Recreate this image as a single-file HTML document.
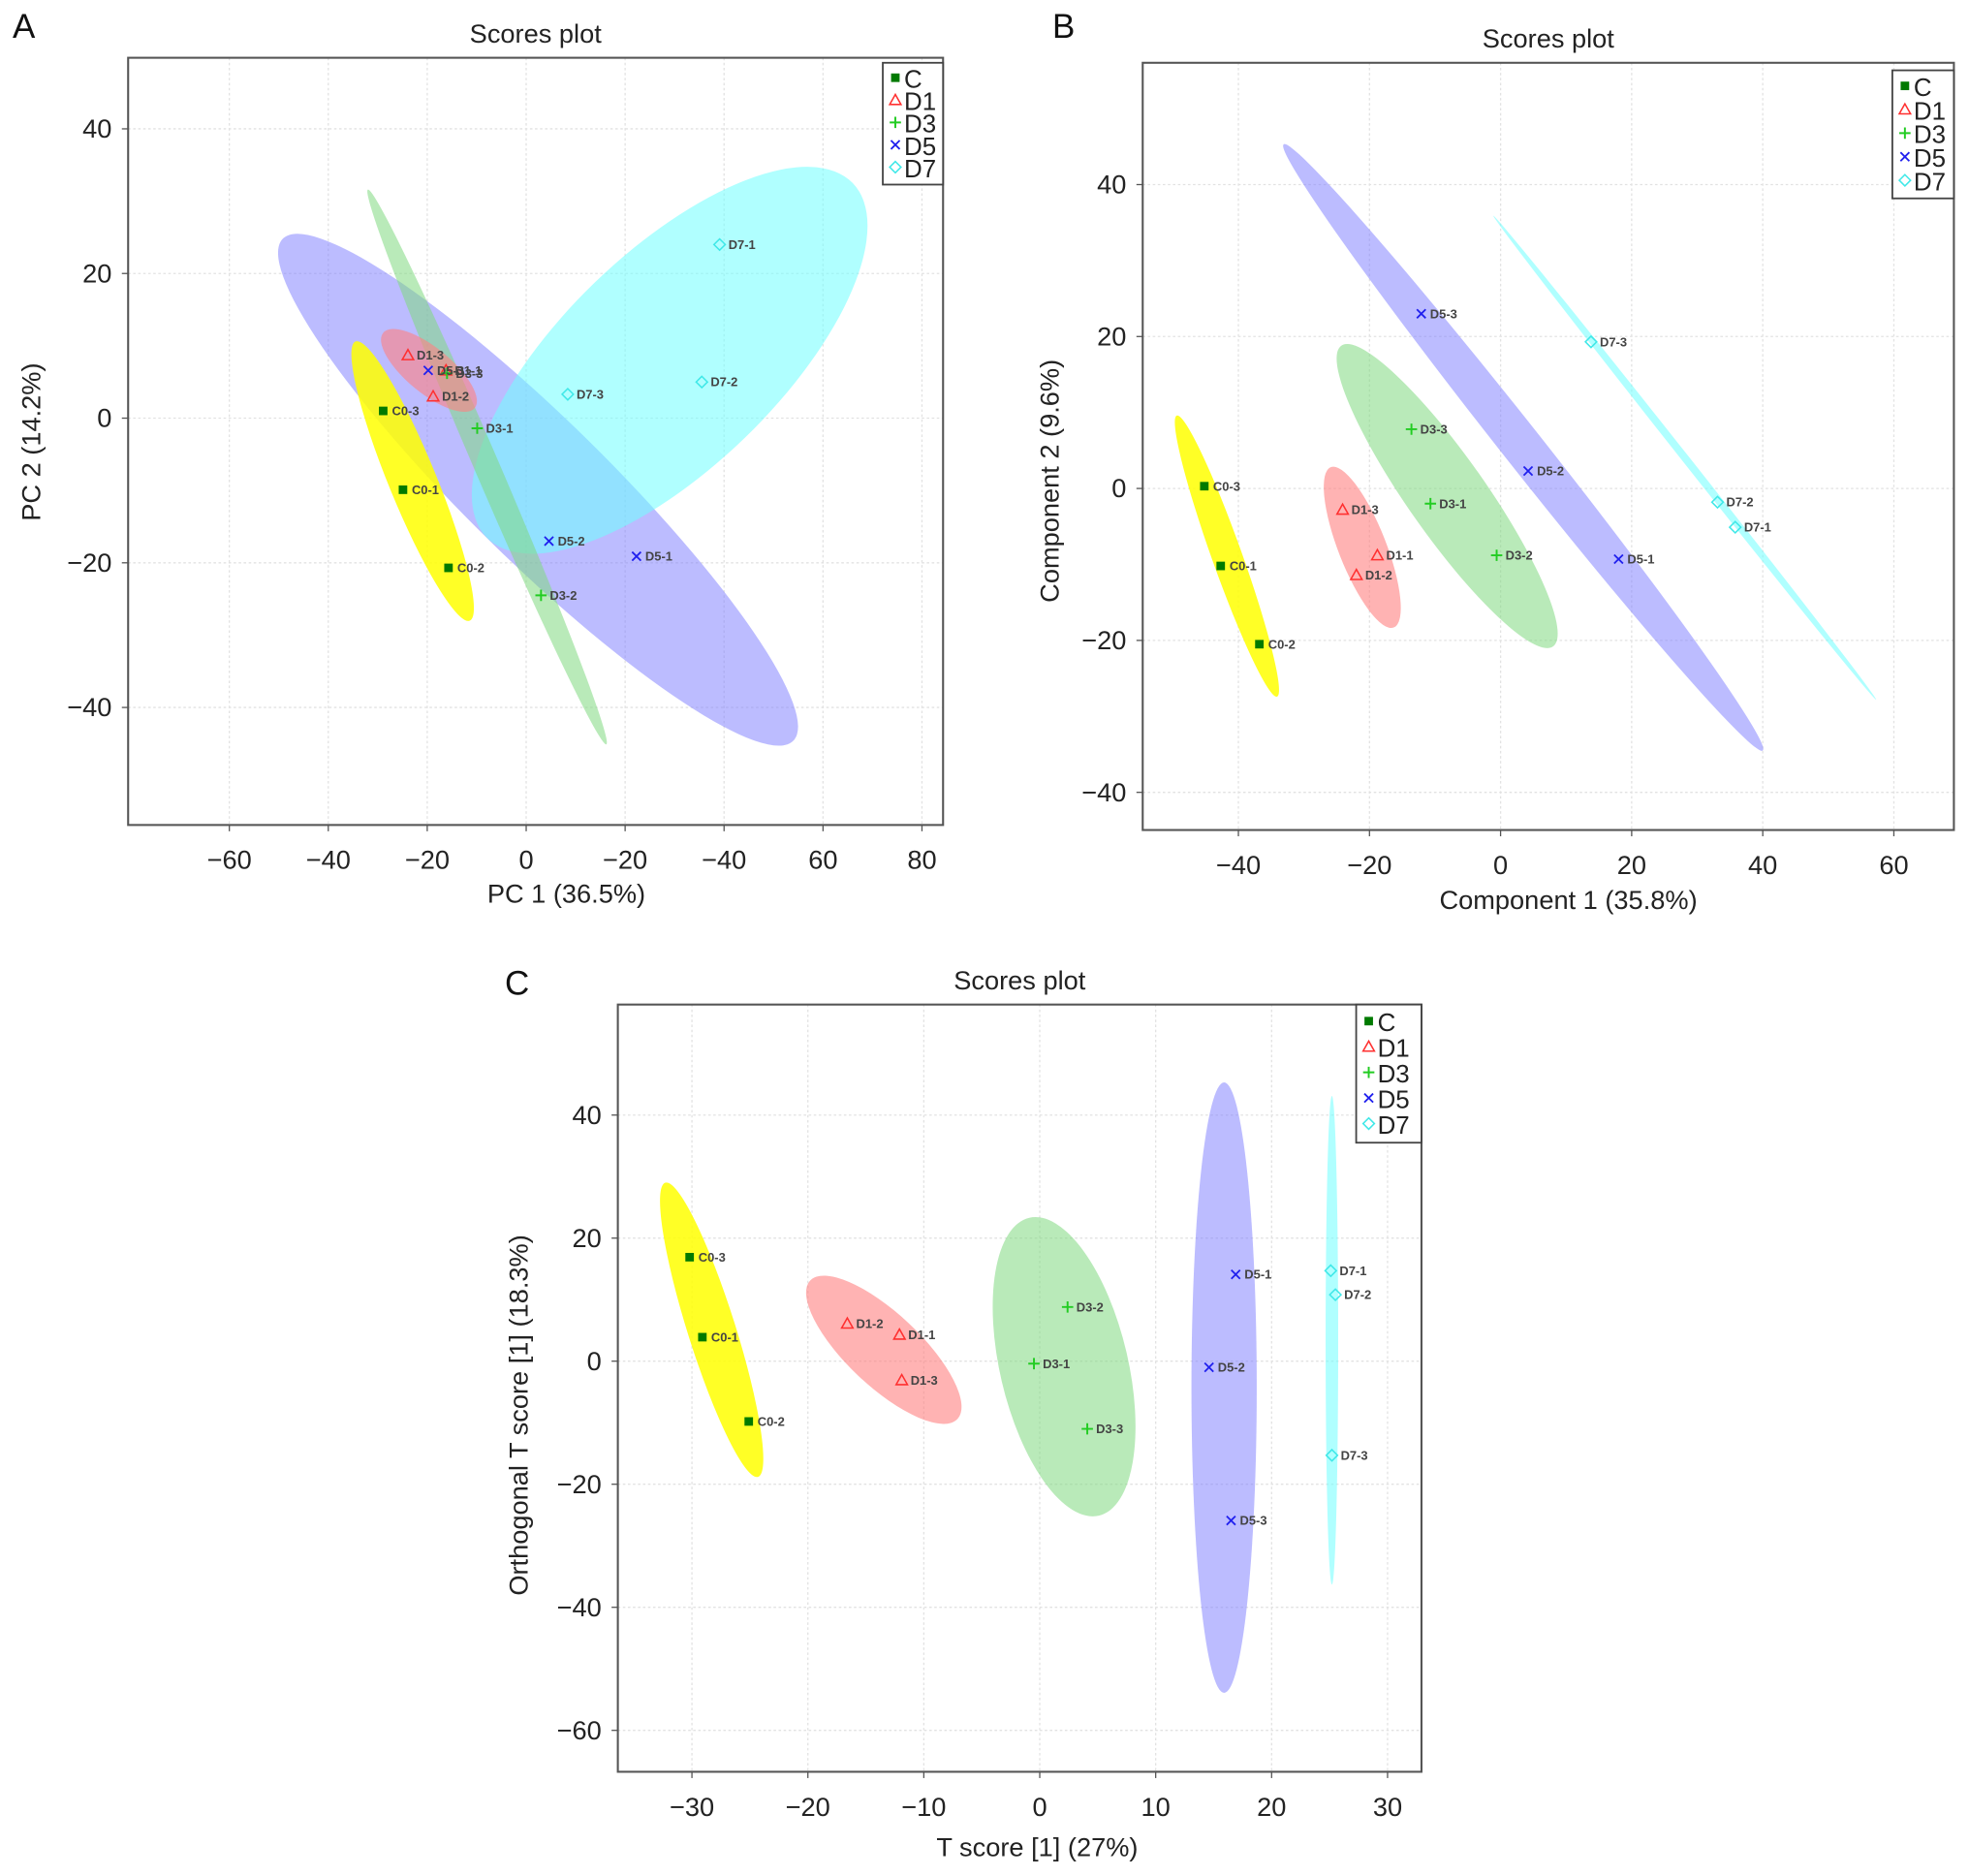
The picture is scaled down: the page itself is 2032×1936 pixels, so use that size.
<!DOCTYPE html>
<html><head><meta charset="utf-8">
<style>
html,body{margin:0;padding:0;background:#fff;}
svg{display:block;font-family:"Liberation Sans",Arial,sans-serif;}
</style></head>
<body>
<svg id="fig" width="2032" height="1936" viewBox="0 0 1568 1494" xmlns="http://www.w3.org/2000/svg"></svg>
<script>
// ---- Panel A data (PCA) ----
const groups = ["C","D1","D3","D5","D7"];
const aLabels = ["C0-3","C0-1","C0-2","D1-3","D1-2","D1-1","D3-1","D3-2","D3-3","D5-3","D5-2","D5-1","D7-1","D7-2","D7-3"];
const aGroup  = ["C","C","C","D1","D1","D1","D3","D3","D3","D5","D5","D5","D7","D7","D7"];
const aX = [-28.9,-24.9,-15.7,-23.9,-18.8,-16.2,-9.9,3.0,-16.0,-19.8,4.6,22.3,39.1,35.5,8.4];
const aY = [1.0,-9.9,-20.7,8.7,3.0,6.6,-1.4,-24.5,6.2,6.6,-17.0,-19.1,24.0,5.0,3.3];
const aXTicks = [-60,-40,-20,0,20,40,60,80];
const aXTickLabels = ["\u221260","\u221240","\u221220","0","\u221220","\u221240","60","80"];
const aYTicks = [40,20,0,-20,-40];
// ellipse: major-axis end points (data) per group
const aEllX1 = [-34.5,-28.9,-32.0,-49.2,66.0];
const aEllY1 = [10.6,11.8,31.6,24.8,32.5];
const aEllX2 = [-11.4,-10.4,16.2,54.0,-8.0];
const aEllY2 = [-28.0,1.4,-45.1,-44.6,-16.5];
const aEllW  = [19,18,10,56,86];

// ---- Panel B data (PLS-DA) ----
const bLabels = ["C0-3","C0-1","C0-2","D1-3","D1-1","D1-2","D3-3","D3-1","D3-2","D5-3","D5-2","D5-1","D7-3","D7-2","D7-1"];
const bGroup  = ["C","C","C","D1","D1","D1","D3","D3","D3","D5","D5","D5","D7","D7","D7"];
const bX = [-45.2,-42.7,-36.8,-24.1,-18.8,-22.0,-13.6,-10.7,-0.6,-12.1,4.2,18.0,13.8,33.1,35.8];
const bY = [0.3,-10.2,-20.5,-2.8,-8.8,-11.4,7.8,-2.0,-8.8,23.0,2.3,-9.3,19.3,-1.8,-5.1];
const bXTicks = [-40,-20,0,20,40,60];
const bYTicks = [40,20,0,-20,-40];
const bEllX1 = [-49.4,-25.9,-24.3,-33.1,-1.1];
const bEllY1 = [9.6,2.8,18.8,45.3,35.9];
const bEllX2 = [-34.1,-16.3,8.0,40.0,57.3];
const bEllY2 = [-27.4,-18.3,-20.8,-34.5,-27.8];
const bEllW  = [12,19,31,16,3];

// ---- Panel C data (OPLS-DA) ----
const cLabels = ["C0-3","C0-1","C0-2","D1-2","D1-1","D1-3","D3-2","D3-1","D3-3","D5-1","D5-2","D5-3","D7-1","D7-2","D7-3"];
const cGroup  = ["C","C","C","D1","D1","D1","D3","D3","D3","D5","D5","D5","D7","D7","D7"];
const cX = [-30.2,-29.1,-25.1,-16.6,-12.1,-11.9,2.4,-0.5,4.1,16.9,14.6,16.5,25.1,25.5,25.2];
const cY = [16.9,3.9,-9.8,6.1,4.3,-3.1,8.8,-0.4,-11.0,14.1,-1.0,-25.9,14.7,10.8,-15.3];
const cXTicks = [-30,-20,-10,0,10,20,30];
const cYTicks = [40,20,0,-20,-40,-60];
const cEllX1 = [-32.3,-19.8,-0.9,15.9,25.2];
const cEllY1 = [29.0,13.1,23.3,45.3,43.1];
const cEllX2 = [-24.3,-7.1,5.1,15.9,25.2];
const cEllY2 = [-18.8,-9.4,-25.1,-53.9,-36.3];
const cEllW  = [19,29,51,26,5];

const NS="http://www.w3.org/2000/svg";
const svg=document.getElementById('fig');
const fills={C:"#ffff00",D1:"#ff8080",D3:"#80d880",D5:"#7a7aff",D7:"#70ffff"};
const ops={C:0.85,D1:0.6,D3:0.55,D5:0.5,D7:0.55};
const mcol={C:"#007a00",D1:"#ff3030",D3:"#22cc22",D5:"#2020ee",D7:"#40e8e8"};
const drawOrder=[3,4,2,1,0];
function mk(tag,attrs,parent){const e=document.createElementNS(NS,tag);for(const k in attrs)e.setAttribute(k,attrs[k]);(parent||svg).appendChild(e);return e;}
function txt(s,attrs,parent){const t=mk('text',attrs,parent);t.textContent=s;return t;}

function marker(g,grp,px,py){
  const c=mcol[grp];let m;
  if(grp==="C"){m=mk('rect',{x:px-3.4,y:py-3.4,width:6.8,height:6.8,fill:c},g);}
  else if(grp==="D1"){m=mk('polygon',{points:`${px},${py-4.5} ${px-4.5},${py+3.5} ${px+4.5},${py+3.5}`,fill:"none",stroke:c,"stroke-width":1.2},g);}
  else if(grp==="D3"){m=mk('path',{d:`M${px-4.5},${py}H${px+4.5}M${px},${py-4.5}V${py+4.5}`,stroke:c,"stroke-width":1.5},g);}
  else if(grp==="D5"){m=mk('path',{d:`M${px-3.5},${py-3.5}L${px+3.5},${py+3.5}M${px-3.5},${py+3.5}L${px+3.5},${py-3.5}`,stroke:c,"stroke-width":1.4},g);}
  else {m=mk('polygon',{points:`${px},${py-4.5} ${px+4.5},${py} ${px},${py+4.5} ${px-4.5},${py}`,fill:"none",stroke:c,"stroke-width":1.2},g);}
  return m;
}

function panel(o){
  const g=mk('g',{});
  
  
  const sx=v=>o.x0+v*o.kx, sy=v=>o.y0-v*o.ky;
  const L=txt(o.id.toUpperCase(),{x:o.lx,y:o.ly,"font-size":27,fill:"#111"},g);
  
  const T=txt("Scores plot",{x:(o.bx1+o.bx2)/2,y:o.by1-12,"font-size":21,"text-anchor":"middle",fill:"#222"},g);
  
  o.xt.forEach((v,i)=>{const l=mk('line',{x1:sx(v),x2:sx(v),y1:o.by1,y2:o.by2,stroke:"#e2e2e2","stroke-dasharray":"2,2","stroke-width":1},g);
    });
  o.yt.forEach(v=>{const l=mk('line',{x1:o.bx1,x2:o.bx2,y1:sy(v),y2:sy(v),stroke:"#e2e2e2","stroke-dasharray":"2,2","stroke-width":1},g);
    });
  drawOrder.forEach(i=>{
    const grp=groups[i];
    const x1=sx(o.ex1[i]),y1=sy(o.ey1[i]),x2=sx(o.ex2[i]),y2=sy(o.ey2[i]);
    const cx=(x1+x2)/2,cy=(y1+y2)/2,rx=Math.hypot(x2-x1,y2-y1)/2,ang=Math.atan2(y2-y1,x2-x1)*180/Math.PI;
    const e=mk('ellipse',{cx:cx,cy:cy,rx:rx,ry:o.ew[i],transform:`rotate(${ang} ${cx} ${cy})`,fill:fills[grp],"fill-opacity":ops[grp]},g);
    
    
  });
  o.px.forEach((v,i)=>{
    const px=sx(v),py=sy(o.py[i]);
    const m=marker(g,o.pg[i],px,py);
    
    
    const t=txt(o.pl[i],{x:px+7,y:py+3.5,"font-size":10,"font-weight":"bold",fill:"#444"},g);
    
    
  });
  const f=mk('rect',{x:o.bx1,y:o.by1,width:o.bx2-o.bx1,height:o.by2-o.by1,fill:"none",stroke:"#555","stroke-width":1.6},g);
  
  o.xt.forEach((v,i)=>{
    mk('line',{x1:sx(v),x2:sx(v),y1:o.by2,y2:o.by2+5,stroke:"#555"},g);
    const t=txt(o.xtl?o.xtl[i]:(v<0?"\u2212"+(-v):String(v)),{x:sx(v),y:o.by2+35,"font-size":21,"text-anchor":"middle",fill:"#222"},g);
    
  });
  o.yt.forEach(v=>{
    mk('line',{x1:o.bx1-5,x2:o.bx1,y1:sy(v),y2:sy(v),stroke:"#555"},g);
    const t=txt(v<0?"\u2212"+(-v):String(v),{x:o.bx1-13,y:sy(v)+7,"font-size":21,"text-anchor":"end",fill:"#222"},g);
    
  });
  const xtl=txt(o.xTitle,{x:o.xtx,y:o.xty,"font-size":21,"text-anchor":"middle",fill:"#222"},g);
  
  const ytl=txt(o.yTitle,{x:o.ytx,y:o.yty,"font-size":21,"text-anchor":"middle",fill:"#222",transform:`rotate(-90 ${o.ytx} ${o.yty})`},g);
  
  const lg=mk('g',{},g);
  
  const lw=o.lgx2-o.lgx1,lh=o.lgy2-o.lgy1;
  mk('rect',{x:o.lgx1,y:o.lgy1,width:lw,height:lh,fill:"#fff",stroke:"#444","stroke-width":1.4},lg);
  const step=(lh-8)/5;
  groups.forEach((grp,i)=>{
    const yy=o.lgy1+4+step*(i+0.5);
    const m=marker(lg,grp,o.lgx1+10,yy-1);
    
    
    const t=txt(grp,{x:o.lgx1+17,y:yy+7,"font-size":20,fill:"#222"},lg);
    
    
  });
}

panel({id:"a",lx:10,ly:30,bx1:102,bx2:751,by1:46,by2:657,x0:419,kx:3.94,y0:333,ky:5.76,
  xt:aXTicks,xtl:aXTickLabels,yt:aYTicks,px:aX,py:aY,pg:aGroup,pl:aLabels,
  ex1:aEllX1,ey1:aEllY1,ex2:aEllX2,ey2:aEllY2,ew:aEllW,
  xTitle:"PC 1 (36.5%)",xtx:451,xty:719,yTitle:"PC 2 (14.2%)",ytx:32,yty:352,
  lgx1:703,lgx2:751,lgy1:50,lgy2:147});
panel({id:"b",lx:838,ly:30,bx1:910,bx2:1556,by1:50,by2:661,x0:1195,kx:5.22,y0:389,ky:6.05,
  xt:bXTicks,yt:bYTicks,px:bX,py:bY,pg:bGroup,pl:bLabels,
  ex1:bEllX1,ey1:bEllY1,ex2:bEllX2,ey2:bEllY2,ew:bEllW,
  xTitle:"Component 1 (35.8%)",xtx:1249,xty:724,yTitle:"Component 2 (9.6%)",ytx:843,yty:383,
  lgx1:1507,lgx2:1556,lgy1:56,lgy2:158});
panel({id:"c",lx:402,ly:792,bx1:492,bx2:1132,by1:800,by2:1411,x0:828,kx:9.233,y0:1084,ky:4.9,
  xt:cXTicks,yt:cYTicks,px:cX,py:cY,pg:cGroup,pl:cLabels,
  ex1:cEllX1,ey1:cEllY1,ex2:cEllX2,ey2:cEllY2,ew:cEllW,
  xTitle:"T score [1] (27%)",xtx:826,xty:1478,yTitle:"Orthogonal T score [1] (18.3%)",ytx:420,yty:1127,
  lgx1:1080,lgx2:1132,lgy1:800,lgy2:910});
</script>
</body></html>
